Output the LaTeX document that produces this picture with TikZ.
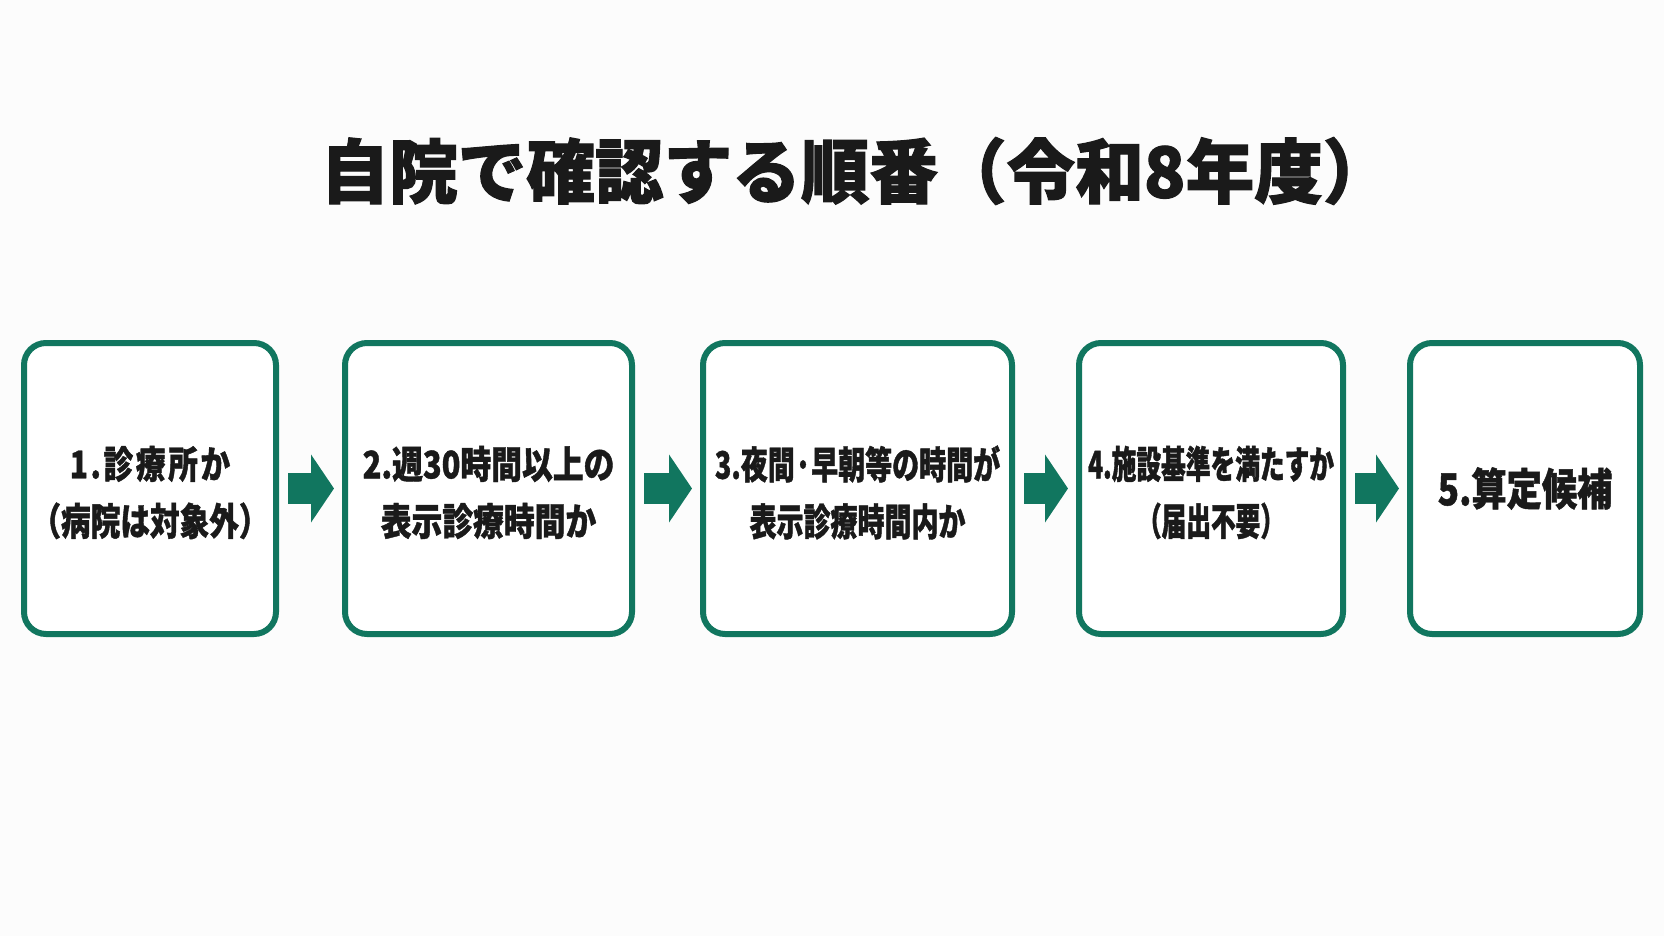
\documentclass[tikz,border=0pt]{standalone}
\usepackage{fontspec}
\newfontfamily\jpA{Noto Sans CJK JP}[FakeStretch=0.78, BoldFeatures={FakeBold=1}]
\newfontfamily\jpAs{Noto Sans CJK JP}[FakeStretch=0.78, LetterSpace=7, BoldFeatures={FakeBold=1}]
\newfontfamily\jpB{Noto Sans CJK JP}[FakeStretch=0.81, BoldFeatures={FakeBold=1}]
\newfontfamily\jpC{Noto Sans CJK JP}[FakeStretch=0.71, BoldFeatures={FakeBold=1}]
\newfontfamily\jpD{Noto Sans CJK JP}[FakeStretch=0.65, BoldFeatures={FakeBold=1}]
\newfontfamily\jpE{Noto Sans CJK JP}[FakeStretch=0.80, BoldFeatures={FakeBold=1}]
\newfontfamily\jptitle{Noto Sans CJK JP}[FakeStretch=0.98, BoldFeatures={FakeBold=1.6}]
\usetikzlibrary{arrows.meta}
\definecolor{grn}{HTML}{11765F}
\definecolor{ink}{HTML}{1A1A1A}
\definecolor{bg}{HTML}{FCFCFC}
\begin{document}
\begin{tikzpicture}[x=1pt,y=-1pt,
  stepbox/.style={draw=grn, line width=6pt, rounded corners=22pt, fill=white,
    minimum height=291pt, inner sep=0pt},
  boxtext/.style={align=center, text=ink, inner sep=0pt},
  flow/.style={draw=grn, line width=31pt, -{Triangle[width=67pt,length=23pt]}}]
\fill[bg] (0,0) rectangle (1664,936);
\useasboundingbox (0,0) rectangle (1664,936);
\node[font=\jptitle\bfseries\fontsize{70}{84}\selectfont, text=ink] (title) at (856,171) {自院で確認する順番（令和8年度）};
\node[stepbox, minimum width=252pt] (b1) at (150,488.5) {};
\node[stepbox, minimum width=287pt] (b2) at (488.5,488.5) {};
\node[stepbox, minimum width=309pt] (b3) at (857.5,488.5) {};
\node[stepbox, minimum width=264pt] (b4) at (1211,488.5) {};
\node[stepbox, minimum width=230pt] (b5) at (1525,488.5) {};
\node[boxtext, font=\jpA\bfseries\fontsize{38}{57}\selectfont] (t1) at ([yshift=-4pt]b1.center) {{\jpAs 1.診療所か}\\（病院は対象外）};
\node[boxtext, font=\jpB\bfseries\fontsize{38}{57}\selectfont] (t2) at ([yshift=-4pt]b2.center) {2.週30時間以上の\\表示診療時間か};
\node[boxtext, font=\jpC\bfseries\fontsize{38}{57}\selectfont] (t3) at ([yshift=-4pt]b3.center) {3.夜間·早朝等の時間が\\表示診療時間内か};
\node[boxtext, font=\jpD\bfseries\fontsize{38}{57}\selectfont] (t4) at ([yshift=-4pt]b4.center) {4.施設基準を満たすか\\（届出不要）};
\node[boxtext, font=\jpE\bfseries\fontsize{44}{56}\selectfont] (t5) at (b5.center) {5.算定候補};
\draw[flow] ([xshift=9pt]b1.east) -- ([xshift=-8pt]b2.west);
\draw[flow] ([xshift=9pt]b2.east) -- ([xshift=-8pt]b3.west);
\draw[flow] ([xshift=9pt]b3.east) -- ([xshift=-8pt]b4.west);
\draw[flow] ([xshift=9pt]b4.east) -- ([xshift=-8pt]b5.west);
\end{tikzpicture}
\end{document}
